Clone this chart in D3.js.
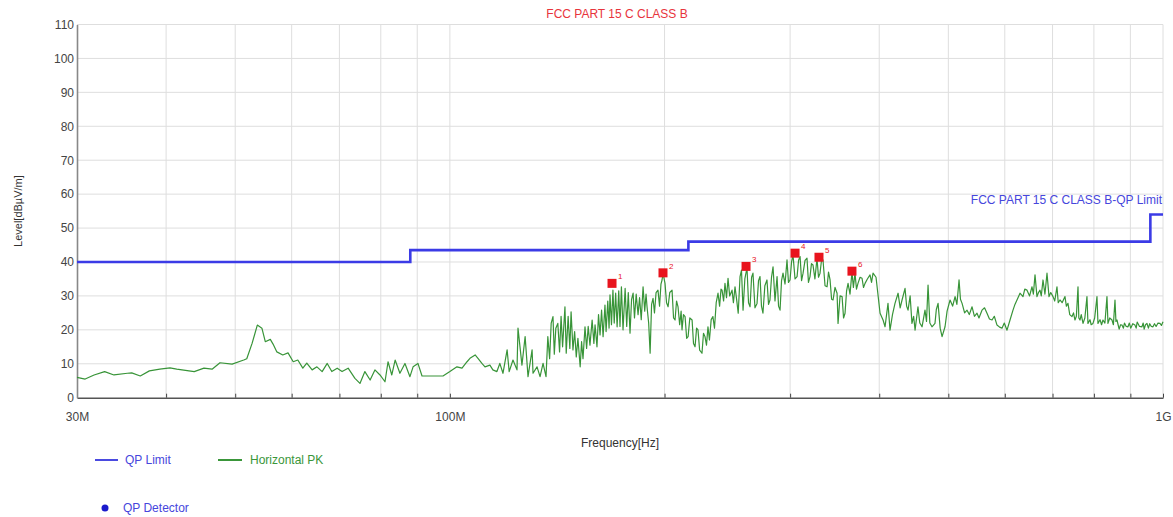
<!DOCTYPE html>
<html>
<head>
<meta charset="utf-8">
<script src="https://cdn.jsdelivr.net/npm/d3@7"></script>
<style>
  html, body { margin: 0; padding: 0; background: #fff; }
  svg { display: block; font-family: "Liberation Sans", Arial, sans-serif; }
</style>
</head>
<body>
<svg id="chart" width="1173" height="517"></svg>
<script>
// Horizontal peak scan: [frequency MHz, level dBµV/m]
const pkScan = [
  [30.0,6.0],[30.8,5.5],[31.7,6.7],[32.8,7.7],[33.8,6.7],[35.3,7.2],[35.8,7.3],[36.8,6.4],[37.9,7.9],[39.2,8.4],
  [40.5,8.8],[41.4,8.4],[43.8,7.7],[45.2,8.7],[46.4,8.4],[47.6,10.3],[49.5,9.9],[51.4,11.1],[51.9,11.5],[52.8,16.0],
  [53.7,21.4],[54.5,20.5],[55.1,16.5],[56.0,17.2],[56.5,15.8],[57.2,13.5],[58.3,12.6],[59.3,13.2],[60.3,10.6],[61.2,11.1],
  [62.2,8.7],[63.0,10.2],[64.1,8.2],[65.1,9.1],[66.2,7.7],[67.3,10.1],[68.3,7.7],[69.5,8.7],[70.6,7.7],[72.0,8.7],
  [73.6,5.7],[74.8,4.2],[76.0,7.7],[77.3,5.2],[78.5,8.2],[79.8,6.7],[81.1,4.7],[81.9,10.6],[82.9,6.7],[83.8,11.1],
  [85.1,7.2],[86.5,10.1],[87.9,6.2],[88.8,9.1],[90.2,10.1],[91.4,6.4],[94.4,6.4],[97.8,6.4],[100.0,7.7],[102.3,9.1],
  [104.0,8.7],[105.7,10.6],[106.7,11.6],[108.5,12.6],[109.5,11.6],[110.9,10.1],[112.0,9.1],[113.8,9.6],[114.9,8.2],[116.4,7.7],
  [117.5,10.1],[118.7,7.2],[120.3,14.1],[121.1,7.7],[122.6,11.1],[124.2,8.2],[124.6,20.5],[126.2,9.6],[127.5,18.0],[128.7,6.2],
  [130.4,14.1],[130.8,7.2],[132.5,9.1],[133.8,6.2],[135.1,10.1],[136.4,6.2],
  [137.2,18.0],[138.0,11.5],[138.7,22.0],[139.5,23.9],[140.1,12.8],[140.8,20.5],[141.7,21.9],[142.5,13.5],[143.2,24.0],[143.9,15.0],
  [145.0,26.8],[145.6,13.1],[146.5,24.0],[147.3,14.5],[147.9,25.3],[148.8,14.1],[149.6,19.5],[150.4,12.0],[151.2,17.5],[152.3,9.1],
  [153.0,16.5],[153.7,11.5],[154.7,20.9],[155.5,14.5],[156.3,21.0],[157.2,15.5],[158.3,22.9],[159.2,16.0],[159.8,21.5],[160.8,15.0],
  [161.6,24.5],[162.4,18.5],[163.2,25.8],[164.0,18.0],[165.0,27.3],[165.6,19.5],[166.5,28.5],[167.2,20.5],[167.7,30.3],[168.5,21.5],
  [169.3,31.7],[170.0,22.0],[170.8,30.8],[171.6,20.9],[172.5,31.5],[173.2,21.0],[174.0,32.7],[174.9,20.0],[176.1,32.2],[177.0,21.0],
  [177.9,31.0],[178.9,19.0],[179.8,29.0],[180.7,30.8],[181.5,23.5],[182.5,30.5],[183.6,24.5],[184.5,29.5],[185.5,23.0],[186.6,32.7],
  [187.6,25.5],[188.4,30.5],[189.0,26.8],[190.0,22.0],[190.9,13.1],[191.8,27.5],[192.7,29.3],[193.6,25.0],[194.6,31.0],[195.8,31.7],
  [196.8,27.0],[197.7,33.5],[198.4,34.7],[199.0,36.7],[200.3,33.7],[201.3,28.0],[202.3,26.8],[203.4,31.0],[204.9,31.7],[205.9,23.5],
  [206.9,22.9],[207.9,28.5],[208.9,26.8],[210.0,21.5],[211.0,25.5],[211.6,20.0],[212.6,24.5],[213.7,23.9],[214.8,17.5],[215.8,18.0],
  [217.0,23.5],[218.6,22.9],[219.6,16.0],[220.7,15.0],[221.8,20.5],[222.8,20.0],[224.0,14.0],[225.7,13.1],[226.8,19.0],[227.9,18.0],
  [229.0,15.5],[230.1,20.9],[231.2,17.0],[232.5,23.0],[233.8,23.9],[235.0,20.5],[236.3,28.0],[237.7,30.8],[238.9,27.0],[240.0,32.0],
  [240.8,31.7],[242.0,28.5],[243.1,33.7],[244.3,29.5],[245.5,35.2],[246.8,30.0],[248.7,31.7],[249.8,28.0],[251.1,32.7],[252.4,29.0],
  [253.7,24.9],[255.2,35.7],[256.4,37.6],[257.7,25.8],[259.2,35.0],[261.0,38.3],[262.3,28.0],[263.6,26.8],[264.9,35.5],[266.1,36.7],
  [267.8,26.5],[269.6,27.8],[270.9,34.5],[272.2,35.7],[273.5,27.0],[274.8,24.9],[276.5,33.0],[278.4,34.7],[279.8,27.5],[281.1,28.8],
  [282.5,35.5],[283.9,38.6],[285.7,28.5],[287.6,35.7],[289.0,27.0],[290.4,25.8],[291.8,34.5],[293.2,36.7],[295.1,33.5],[297.0,40.6],
  [298.4,34.0],[299.9,34.7],[301.4,40.0],[302.8,42.1],[304.8,35.0],[306.8,35.7],[308.3,40.5],[309.8,41.6],[311.3,34.5],[312.8,36.7],
  [314.8,40.5],[316.8,41.1],[318.3,34.0],[319.9,35.7],[321.4,39.5],[323.0,39.1],[325.0,35.0],[327.2,41.1],[328.8,35.5],[330.4,36.7],
  [332.0,40.5],[333.6,40.6],[335.8,33.0],[338.0,32.7],[339.6,37.0],[341.3,34.7],[343.0,29.0],[344.6,28.8],[346.8,32.5],[349.1,30.8],
  [350.2,21.9],[352.5,30.0],[354.8,29.8],[356.5,23.5],[358.2,24.9],[360.0,31.5],[361.7,33.7],[364.0,30.5],[366.3,37.1],[368.0,32.5],
  [369.9,36.7],[371.7,32.0],[373.5,33.7],[376.0,35.5],[378.4,35.2],[380.2,32.5],[382.1,33.7],[385.0,35.0],[388.3,36.2],[390.2,34.0],
  [392.1,36.7],[395.9,35.5],
  [401.1,24.9],[405.0,22.9],[407.6,20.9],[411.5,27.8],[414.2,19.9],[417.5,24.5],[420.9,27.8],[425.1,30.8],[428.0,26.5],[430.6,28.8],
  [434.8,32.2],[437.0,27.0],[439.0,25.8],[442.0,30.0],[444.6,21.9],[447.0,24.0],[449.1,19.9],[453.3,26.8],[456.0,22.0],[459.3,20.9],
  [463.7,25.8],[466.0,22.5],[468.3,33.2],[471.0,22.0],[474.3,20.9],[478.9,21.9],[481.0,26.0],[483.7,27.8],[487.0,20.5],[490.0,18.0],
  [494.7,20.9],[498.0,25.5],[502.8,28.8],[507.0,27.0],[511.0,29.8],[514.0,27.5],[517.6,34.7],[520.0,29.0],[522.7,27.8],[527.0,25.0],
  [531.1,25.8],[535.0,24.5],[539.8,26.8],[544.0,24.0],[548.5,24.9],[552.0,23.5],[557.4,25.8],[562.0,26.5],[566.5,24.9],[571.0,23.2],
  [575.8,22.9],[580.0,24.0],[585.1,21.4],[590.0,20.8],[594.6,20.5],[599.0,22.0],[604.3,19.9],[610.2,22.9],[616.1,25.8],[620.0,27.5],
  [624.1,28.8],[630.2,30.8],[636.3,29.8],[640.0,32.0],[644.6,31.7],[650.0,30.0],[655.1,32.7],[658.0,30.5],[661.5,36.2],[665.7,29.8],
  [669.0,31.0],[672.2,31.7],[675.0,30.0],[678.8,34.7],[683.0,30.5],[687.6,36.7],[692.1,29.8],[696.0,31.0],[701.1,29.8],[705.0,28.5],
  [710.1,32.7],[713.0,28.0],[717.0,28.8],[722.0,28.0],[728.7,29.8],[732.0,27.0],[735.8,27.8],[740.0,24.5],[745.4,23.9],[749.0,25.0],
  [752.6,22.9],[756.0,24.0],[760.0,32.7],[762.0,23.5],[764.9,22.9],[768.0,24.5],[772.4,21.9],[777.0,23.5],[782.3,29.8],[784.8,21.9],
  [790.0,23.0],[793.0,21.5],[797.6,21.9],[802.0,23.5],[808.0,29.8],[810.6,21.9],[816.0,23.0],[820.0,21.5],[823.8,22.9],[829.0,22.0],
  [834.5,29.8],[837.2,21.9],[842.0,23.5],[848.1,22.9],[852.0,21.5],[856.4,28.8],[859.0,22.5],[861.9,22.9],[868.0,20.2],[872.0,21.5],
  [876.0,21.4],[880.0,20.5],[883.0,22.0],[888.0,21.0],[893.1,20.9],[897.0,22.0],[901.0,20.5],[907.0,21.8],[913.5,21.4],[917.0,20.5],
  [920.0,22.3],[927.0,21.0],[934.3,20.9],[938.0,22.0],[941.0,20.2],[945.0,21.5],[949.5,21.9],[954.0,20.5],[958.0,21.8],[963.0,21.0],
  [968.1,20.9],[973.0,21.8],[978.0,21.0],[984.0,22.0],[990.2,21.9],[995.0,21.3],[1000.0,22.4]
];

// FCC Part 15 class B quasi-peak limit (stepped)
const limitFreq  = [30, 88, 88, 216, 216, 960, 960, 1000];
const limitLevel = [40, 40, 43.5, 43.5, 46, 46, 54, 54];

// Final QP measurement points
const markFreq  = [168.8, 199.0, 260.2, 304.8, 329.3, 366.3];
const markLevel = [33.7, 36.8, 38.7, 42.6, 41.4, 37.3];
const markLabel = ["1", "2", "3", "4", "5", "6"];

// Axis ticks
const xGridTicks = [30,40,50,60,70,80,90,100,200,300,400,500,600,700,800,900,1000];
const xLabelMap = {30: "30M", 100: "100M", 1000: "1G"};
const yTicks = [0,10,20,30,40,50,60,70,80,90,100,110];

const svg = d3.select("#chart");
const m = {left: 77, right: 10, top: 24.5, bottom: 119.3};
const W = 1173, H = 517;

const x = d3.scaleLog().domain([30, 1000]).range([m.left, W - m.right]);
const y = d3.scaleLinear().domain([0, 110]).range([H - m.bottom, m.top]);

svg.append("rect").attr("width", W).attr("height", H).attr("fill", "#fff");

// grid
const grid = svg.append("g").attr("stroke", "#dedede").attr("stroke-width", 1);
grid.selectAll("line.v").data(xGridTicks.slice(1)).join("line")
  .attr("x1", d => x(d)).attr("x2", d => x(d))
  .attr("y1", y(110)).attr("y2", y(0));
grid.selectAll("line.h").data(yTicks.slice(1)).join("line")
  .attr("x1", x(30)).attr("x2", x(1000))
  .attr("y1", d => y(d)).attr("y2", d => y(d));

// axes
const xAxis = d3.axisBottom(x)
  .tickValues(xGridTicks)
  .tickFormat(d => xLabelMap[d] || "")
  .tickSizeInner(-4).tickSizeOuter(0).tickPadding(15);
const gx = svg.append("g").attr("transform", `translate(0,${y(0)})`).call(xAxis);
gx.select(".domain").attr("stroke", "#555").attr("stroke-width", 1.6);
gx.selectAll(".tick line").attr("stroke", "#444").attr("stroke-width", 1);
gx.selectAll("text").attr("fill", "#444").attr("font-size", 12)
  .attr("font-family", "Liberation Sans, Arial, sans-serif");

const yAxis = d3.axisLeft(y).tickValues(yTicks).tickSize(0).tickPadding(3);
const gy = svg.append("g").attr("transform", `translate(${m.left},0)`).call(yAxis);
gy.select(".domain").attr("stroke", "#888").attr("stroke-width", 1.6);
gy.selectAll("text").attr("fill", "#444").attr("font-size", 12)
  .attr("font-family", "Liberation Sans, Arial, sans-serif");

// peak trace
svg.append("path").datum(pkScan)
  .attr("fill", "none").attr("stroke", "#389438").attr("stroke-width", 1.2)
  .attr("stroke-linejoin", "round")
  .attr("d", d3.line().x(d => x(d[0])).y(d => y(d[1])));

// limit line
const limData = limitFreq.map((f, i) => [f, limitLevel[i]]);
svg.append("path").datum(limData)
  .attr("fill", "none").attr("stroke", "#3b3be6").attr("stroke-width", 2.6)
  .attr("d", d3.line().x(d => x(d[0])).y(d => y(d[1])));

svg.append("text")
  .attr("x", x(1000) - 1).attr("y", y(54) - 10)
  .attr("text-anchor", "end").attr("font-size", 12).attr("fill", "#4646dc")
  .text("FCC PART 15 C CLASS B-QP Limit");

// markers
const mk = svg.append("g");
markFreq.forEach((f, i) => {
  mk.append("rect")
    .attr("x", x(f) - 4.5).attr("y", y(markLevel[i]) - 4.5)
    .attr("width", 9).attr("height", 9)
    .attr("fill", "#e8141e");
  mk.append("text")
    .attr("x", x(f) + 6).attr("y", y(markLevel[i]) - 4)
    .attr("font-size", 8).attr("fill", "#e8141e")
    .text(markLabel[i]);
});

// titles
svg.append("text").attr("x", 617).attr("y", 18)
  .attr("text-anchor", "middle").attr("font-size", 12).attr("fill", "#e8343c")
  .text("FCC PART 15 C CLASS B");
svg.append("text").attr("x", (x(30) + x(1000)) / 2).attr("y", 447)
  .attr("text-anchor", "middle").attr("font-size", 12).attr("fill", "#333")
  .text("Frequency[Hz]");
svg.append("text")
  .attr("transform", `translate(22,${(y(0) + y(110)) / 2}) rotate(-90)`)
  .attr("text-anchor", "middle").attr("font-size", 11).attr("fill", "#333")
  .text("Level[dBµV/m]");

// legend
const lg = svg.append("g").attr("font-size", 12);
lg.append("line").attr("x1", 95).attr("x2", 118).attr("y1", 460).attr("y2", 460)
  .attr("stroke", "#4a4ae0").attr("stroke-width", 2);
lg.append("text").attr("x", 125).attr("y", 464).attr("fill", "#4646dc").text("QP Limit");
lg.append("line").attr("x1", 218).attr("x2", 242).attr("y1", 460).attr("y2", 460)
  .attr("stroke", "#3a963a").attr("stroke-width", 2);
lg.append("text").attr("x", 250).attr("y", 464).attr("fill", "#3a963a").text("Horizontal PK");
lg.append("circle").attr("cx", 105).attr("cy", 508).attr("r", 3.5).attr("fill", "#1a1acc");
lg.append("text").attr("x", 123).attr("y", 512).attr("fill", "#4646dc").text("QP Detector");
</script>
</body>
</html>
